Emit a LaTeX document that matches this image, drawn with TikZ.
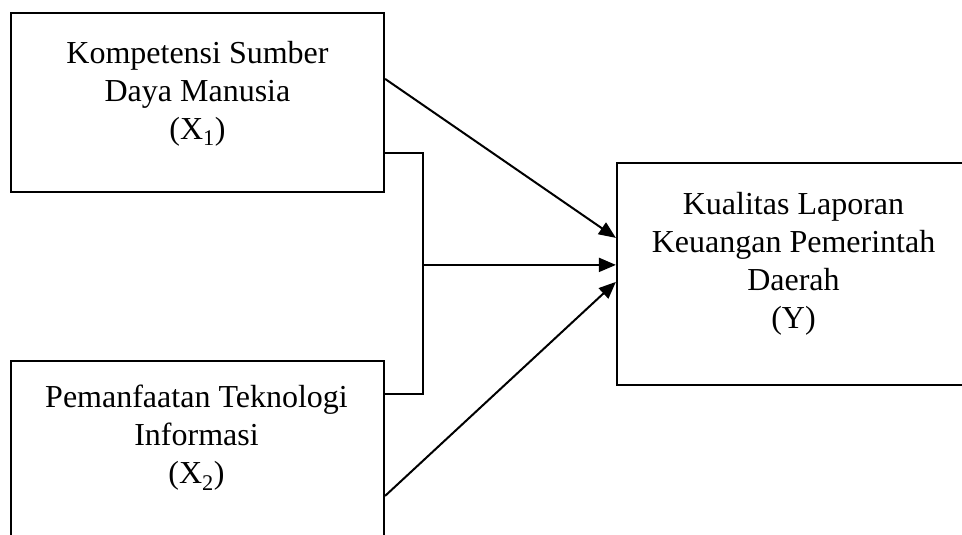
\documentclass[tikz,border=0pt]{standalone}
\usepackage{fontspec}
\setmainfont{Liberation Serif}
\usetikzlibrary{arrows.meta,calc}
\begin{document}
\begin{tikzpicture}[x=1pt,y=-1pt,
  box/.style={draw,line width=2.2pt,minimum width=#1,inner sep=0pt},
  lbl/.style={align=center,anchor=north,inner sep=0pt,font=\fontsize{32}{38}\selectfont},
  conn/.style={line width=2pt},
  arr/.style={line width=2pt,-{Triangle[length=17pt,width=14pt]}}]
\clip (0,0) rectangle (962,535);
\fill[white] (0,0) rectangle (962,535);
% boxes
\node[box=373pt,minimum height=179pt] (b1) at (197.5,102.5) {};
\node[box=373pt,minimum height=199pt] (b2) at (197.5,460.5) {};
\node[box=373pt,minimum height=222pt] (by) at (803.5,274) {};
% labels
\node[lbl] (t1) at (197.5,41.3) {Kompetensi Sumber\\Daya Manusia\\(X\textsubscript{1})};
\node[lbl] (t2) at (196.5,385.1) {Pemanfaatan Teknologi\\Informasi\\(X\textsubscript{2})};
\node[lbl] (ty) at (793.5,192.1) {Kualitas Laporan\\Keuangan Pemerintah\\Daerah\\(Y)};
% connector points
\coordinate (a1s) at ($(b1.north east)+(0,67)$);
\coordinate (a1e) at ($(by.north west)+(0,76)$);
\coordinate (k1) at ($(b1.north east)+(0,141)$);
\coordinate (k2) at ($(b2.north west -| b1.east)+(0,34)$);
\coordinate (j) at ($(k1)+(38,112)$);
\coordinate (a2e) at (j -| by.west);
\coordinate (a3s) at ($(b2.north east)+(0,136)$);
\coordinate (a3e) at ($(by.north west)+(0,120)$);
% connectors
\draw[arr] (a1s) -- (a1e);
\draw[conn] (k1) -- ++(38,0) |- (k2);
\draw[arr] (j) -- (a2e);
\draw[arr] (a3s) -- (a3e);
\end{tikzpicture}
\end{document}
